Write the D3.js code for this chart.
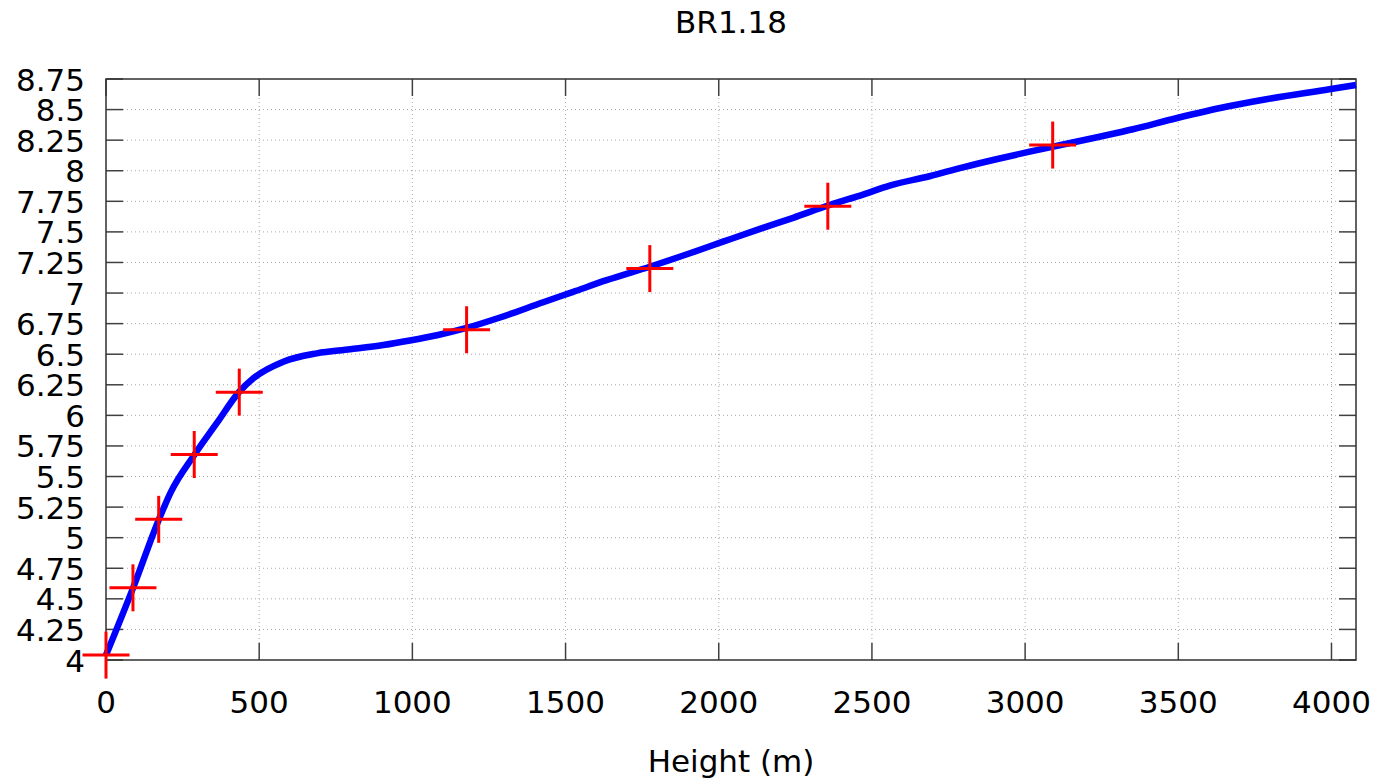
<!DOCTYPE html>
<html>
<head>
<meta charset="utf-8">
<script src="https://cdn.jsdelivr.net/npm/d3@7"></script>
<style>
  body { margin: 0; background: #fff; }
  text { font-family: "DejaVu Sans", sans-serif; fill: #000; }
</style>
</head>
<body>
<div id="chart"></div>
<script>
// curve (blue line)
const curveHeight = [0, 90, 172, 210, 288, 362, 435, 481, 579, 688, 797, 905, 992, 1080, 1177,
  1286, 1427, 1525, 1634, 1775, 1906, 2014, 2123, 2243, 2362, 2471, 2558, 2688, 2797, 2906,
  3015, 3243, 3352, 3493, 3656, 3787, 3993, 4080];
const curveValue = [4.04, 4.6, 5.145, 5.365, 5.676, 5.938, 6.193, 6.303, 6.439, 6.507, 6.54, 6.575, 6.612, 6.655, 6.715,
  6.8, 6.925, 7.01, 7.105, 7.215, 7.325, 7.42, 7.515, 7.615, 7.72, 7.805, 7.878, 7.955, 8.028, 8.094,
  8.156, 8.278, 8.339, 8.429, 8.523, 8.584, 8.666, 8.701];

// measured points (red crosses)
const pointHeight = [0, 88, 172, 288, 435, 1177, 1775, 2356, 3090];
const pointValue = [4.04, 4.59, 5.15, 5.68, 6.19, 6.7, 7.2, 7.71, 8.21];

const xTicks = [0, 500, 1000, 1500, 2000, 2500, 3000, 3500, 4000];
const yTicks = [4, 4.25, 4.5, 4.75, 5, 5.25, 5.5, 5.75, 6, 6.25, 6.5, 6.75, 7, 7.25, 7.5, 7.75, 8, 8.25, 8.5, 8.75];

const title = "BR1.18";
const xLabel = "Height (m)";

const width = 1385, height = 782;
const pLeft = 106, pRight = 1356, pTop = 79, pBottom = 660;
const tickLen = 17;

const svg = d3.select("#chart").append("svg")
  .attr("width", width)
  .attr("height", height);

const x = d3.scaleLinear().domain([0, 4080]).range([pLeft, pRight]);
const y = d3.scaleLinear().domain([4, 8.75]).range([pBottom, pTop]);

// grid
const grid = svg.append("g")
  .style("stroke", "#a8a8a8")
  .style("stroke-width", 1)
  .style("stroke-dasharray", "1,3");

grid.selectAll("line.gx")
  .data(xTicks.filter(d => d > 0))
  .enter().append("line")
  .attr("x1", d => x(d)).attr("x2", d => x(d))
  .attr("y1", pBottom - tickLen).attr("y2", pTop + tickLen);

grid.selectAll("line.gy")
  .data(yTicks.filter(d => d > 4 && d < 8.75))
  .enter().append("line")
  .attr("x1", pLeft + tickLen).attr("x2", pRight - tickLen)
  .attr("y1", d => y(d)).attr("y2", d => y(d));

// ticks (inward, all four sides)
const ticks = svg.append("g")
  .style("stroke", "#404040")
  .style("stroke-width", 1.5);

xTicks.forEach(d => {
  ticks.append("line").attr("x1", x(d)).attr("x2", x(d)).attr("y1", pBottom).attr("y2", pBottom - tickLen);
  ticks.append("line").attr("x1", x(d)).attr("x2", x(d)).attr("y1", pTop).attr("y2", pTop + tickLen);
});
yTicks.forEach(d => {
  ticks.append("line").attr("x1", pLeft).attr("x2", pLeft + tickLen).attr("y1", y(d)).attr("y2", y(d));
  ticks.append("line").attr("x1", pRight).attr("x2", pRight - tickLen).attr("y1", y(d)).attr("y2", y(d));
});

// border
svg.append("rect")
  .attr("x", pLeft).attr("y", pTop)
  .attr("width", pRight - pLeft).attr("height", pBottom - pTop)
  .style("fill", "none")
  .style("stroke", "#303030")
  .style("stroke-width", 1.5);

// tick labels
svg.append("g").selectAll("text")
  .data(xTicks)
  .enter().append("text")
  .attr("x", d => x(d))
  .attr("y", 713)
  .style("text-anchor", "middle")
  .style("font-size", "31px")
  .text(d => d);

svg.append("g").selectAll("text")
  .data(yTicks)
  .enter().append("text")
  .attr("x", 85)
  .attr("y", d => y(d) + 11.5)
  .style("text-anchor", "end")
  .style("font-size", "31px")
  .text(d => String(d));

// title and axis label
svg.append("text")
  .attr("x", (pLeft + pRight) / 2)
  .attr("y", 33)
  .style("text-anchor", "middle")
  .style("font-size", "31px")
  .text(title);

svg.append("text")
  .attr("x", (pLeft + pRight) / 2)
  .attr("y", 772)
  .style("text-anchor", "middle")
  .style("font-size", "31px")
  .text(xLabel);

// curve
const curve = curveHeight.map((h, i) => [h, curveValue[i]]);
const line = d3.line()
  .x(d => x(d[0]))
  .y(d => y(d[1]))
  .curve(d3.curveMonotoneX);

svg.append("path")
  .datum(curve)
  .attr("d", line)
  .style("fill", "none")
  .style("stroke", "#0000ff")
  .style("stroke-width", 6.5)
  .style("stroke-linejoin", "round");

// crosses
const arm = 23.5;
const pts = svg.append("g")
  .style("stroke", "#ff0000")
  .style("stroke-width", 3);

pointHeight.forEach((h, i) => {
  const cx = x(h), cy = y(pointValue[i]);
  pts.append("line").attr("x1", cx - arm).attr("x2", cx + arm).attr("y1", cy).attr("y2", cy);
  pts.append("line").attr("x1", cx).attr("x2", cx).attr("y1", cy - arm).attr("y2", cy + arm);
});
</script>
</body>
</html>
